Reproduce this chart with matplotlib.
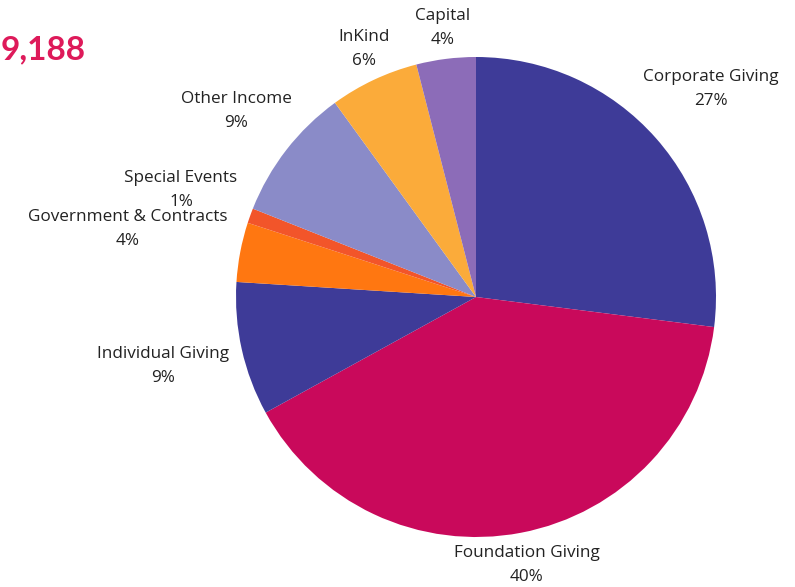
import matplotlib.pyplot as plt

# Revenue sources, clockwise from 12 o'clock
sources = ["Corporate Giving", "Foundation Giving", "Individual Giving",
           "Government & Contracts", "Special Events", "Other Income",
           "InKind", "Capital"]
shares = [27, 40, 9, 4, 1, 9, 6, 4]
colors = ["#3e3b98", "#c9095b", "#3e3b98", "#ff7711",
          "#f2552a", "#8a8bc8", "#fbab3a", "#8c6cb8"]

# label anchor points in pixel coordinates (x, y from top)
label_pos = [(711, 89), (527, 565), (163, 366), (128, 229),
             (181, 190), (236, 111), (364, 49), (443, 28)]

W, H = 795, 587
fig = plt.figure(figsize=(W / 100, H / 100), dpi=100)
ax = fig.add_axes([0, 0, 1, 1])

ax.pie(shares, colors=colors, startangle=90, counterclock=False,
       center=(476, H - 297), radius=240, frame=True,
       wedgeprops=dict(linewidth=0))
ax.set_xlim(0, W)
ax.set_ylim(0, H)
ax.set_aspect("equal")
ax.axis("off")

for name, pct, (x, y) in zip(sources, shares, label_pos):
    ax.text(x, H - y, f"{name}\n{pct}%", ha="center", va="center",
            fontsize=12.3, family="Open Sans", color="#222222",
            linespacing=1.6)

# total in the header (cut off at the left in the original)
ax.text(1, H - 50, "9,188", ha="left", va="center", fontsize=24,
        family="Lato", fontweight="bold", color="#de1a5a")

fig.savefig("out.png", dpi=100)
